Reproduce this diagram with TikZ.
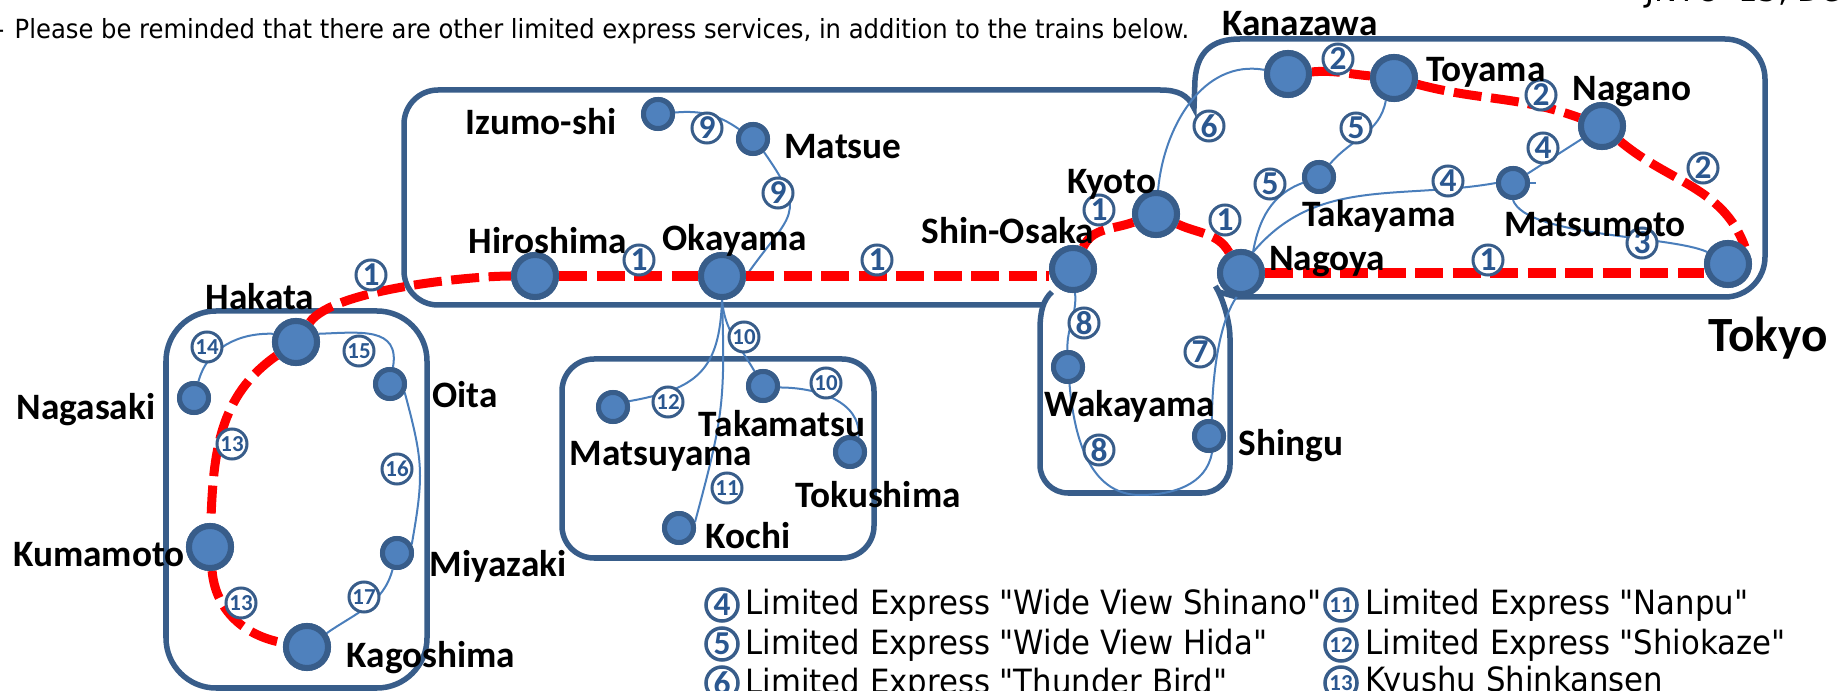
\documentclass[tikz,border=0pt]{standalone}
\usepackage{fontspec}
\setmainfont{Carlito}
\newfontfamily\legendfont[FakeStretch=0.92]{DejaVu Sans}
\usetikzlibrary{calc}

\definecolor{boxblue}{HTML}{385D8A}
\definecolor{dotblue}{HTML}{4F81BD}
\definecolor{wireblue}{HTML}{4A7EBB}
\definecolor{numblue}{HTML}{2A5790}

\tikzset{
    stationbig/.style={circle,draw=boxblue,fill=dotblue,line width=0.06cm,minimum size=0.42cm,inner sep=0pt},
    stationsmall/.style={circle,draw=boxblue,fill=dotblue,line width=0.05cm,minimum size=0.29cm,inner sep=0pt},
    stationname/.style={font=\fontsize{10.6}{12}\selectfont\bfseries,inner sep=0pt},
    trainno/.style={circle,draw=boxblue,fill=white,line width=0.03cm,minimum size=0.3cm,inner sep=0pt,text=numblue,font=\fontsize{9.5}{10}\selectfont\bfseries},
    trainnosm/.style={trainno,font=\fontsize{6.5}{7}\selectfont\bfseries},
    railbox/.style={draw=boxblue,line width=0.055cm},
    shinkansen/.style={draw=red,line width=0.09cm,dash pattern=on 0.28cm off 0.095cm},
    express/.style={draw=wireblue,line width=0.02cm},
    legendtext/.style={font=\legendfont\fontsize{9.5}{10}\selectfont,anchor=base west,inner sep=0pt},
    notetext/.style={legendtext,font=\legendfont\fontsize{7.5}{10}\selectfont},
    legendno/.style={line width=0.035cm,minimum size=0.32cm},
}

\begin{document}
\begin{tikzpicture}[x=0.01cm,y=-0.01cm]

    \clip (0,0) rectangle (1841,691);

    % outlines of the areas
    \draw[railbox,rounded corners=0.5cm] (166,311) rectangle (427,688);
    \draw[railbox,rounded corners=0.32cm] (562,359) rectangle (874,558);
    \draw[railbox] (1052,292) .. controls (1043,300) and (1040,312) .. (1040,330)
        [rounded corners=0.28cm] -- (1040,493) -- (1230,493) -- (1230,310)
        [sharp corners] -- (1219,292) -- (1237,297)
        [rounded corners=0.4cm] -- (1765,297) -- (1765,39) -- (1240,39);
    \draw[railbox,line join=miter] (1240,39) .. controls (1212,39) and (1197,52) .. (1195,80) -- (1194,108)
        .. controls (1188,95) and (1178,90) .. (1160,90);
    \draw[railbox,rounded corners=0.34cm] (1160,90) -- (404,90) -- (404,305) -- (1042,305);

    % stations
    \foreach \nm/\x/\y in {hiroshima/535/276,okayama/722/276,hakata/296/342,kanazawa/1288/74,toyama/1394/78,nagano/1602/126,kyoto/1156/214,shinosaka/1073/269,nagoya/1241/273,tokyo/1728/264,kumamoto/210/547,kagoshima/307/647}
        \node[stationbig] (\nm) at (\x,\y) {};
    \foreach \nm/\x/\y in {izumo/658/114,matsue/753/139,takayama/1319/177,matsumoto/1513/183,nagasaki/194/398,oita/390/384,miyazaki/397/553,matsuyama/613/407,takamatsu/763/386,tokushima/850/452,kochi/679/528,wakayama/1068/367,shingu/1209/436}
        \node[stationsmall] (\nm) at (\x,\y) {};
    \coordinate (kiibottom) at (1140,495);

    % thin lines
    \draw[express] (izumo) to[out=5,in=145] (matsue);
    \draw[express] (matsue.-50) to[out=-55,in=55,looseness=1.6] (okayama.0);
    \draw[express] (kanazawa) to[out=170,in=85] (kyoto);
    \draw[express] (toyama.-110) to[out=-100,in=50] (takayama);
    \draw[express] (takayama) to[out=200,in=80] (nagoya.60);
    \draw[express] (nagano) -- (matsumoto);
    \draw[express] (matsumoto.east) -- ++(6,0);
    \draw[express] (matsumoto.180) to[out=190,in=50] (nagoya.60);
    \draw[express] (matsumoto.-90) to[out=-70,in=155,looseness=0.5] (tokyo.150);
    \draw[express] (nagoya.-100) to[out=-125,in=90,looseness=0.7] (shingu.80);
    \draw[express] (shingu.-80) to[out=-100,in=0] (kiibottom) to[out=180,in=-85] (wakayama);
    \draw[express] (wakayama) to[out=92,in=-85] (shinosaka);
    \draw[express] (hakata.160) to[out=178,in=75] (nagasaki);
    \draw[express] (hakata.20) to[out=2,in=80,looseness=1.3] (oita);
    \draw[express] (oita.-30) to[out=-75,in=80,looseness=1.2] (miyazaki.30);
    \draw[express] (miyazaki) to[out=-105,in=35] (kagoshima);
    \draw[express] (okayama.-90) to[out=-92,in=10,looseness=1.3] (matsuyama.20);
    \draw[express] (okayama.-90) to[out=-88,in=75,looseness=1.2] (kochi.20);
    \draw[express] (okayama.-90) to[out=-85,in=120] (takamatsu);
    \draw[express] (takamatsu.-5) to[out=0,in=85] (tokushima.60);

    % shinkansen
    \draw[shinkansen] (hakata) to[out=55,in=180,looseness=0.5] (hiroshima.west);
    \draw[shinkansen] (hiroshima) -- (okayama);
    \draw[shinkansen] (okayama.east) -- (okayama.east -| shinosaka.west);
    \draw[shinkansen] (shinosaka) to[out=65,in=200] (kyoto);
    \draw[shinkansen] (kyoto) to[out=-25,in=120] (nagoya);
    \draw[shinkansen] (nagoya.east) -- (nagoya.east -| tokyo.west);
    \draw[shinkansen] (kanazawa) to[out=5,in=175] (toyama);
    \draw[shinkansen] (toyama) to[out=-15,in=160] (nagano);
    \draw[shinkansen] (nagano) to[out=-40,in=110] (tokyo.45);
    \draw[shinkansen] (hakata.215) to[out=215,in=88] (kumamoto);
    \draw[shinkansen] (kumamoto) to[out=-85,in=170] (kagoshima);

    % stations again, over the lines
    \foreach \nm/\x/\y in {hiroshima/535/276,okayama/722/276,hakata/296/342,kanazawa/1288/74,toyama/1394/78,nagano/1602/126,kyoto/1156/214,shinosaka/1073/269,nagoya/1241/273,tokyo/1728/264,kumamoto/210/547,kagoshima/307/647}
        \node[stationbig] (top\nm) at (\x,\y) {};
    \foreach \nm/\x/\y in {izumo/658/114,matsue/753/139,takayama/1319/177,matsumoto/1513/183,nagasaki/194/398,oita/390/384,miyazaki/397/553,matsuyama/613/407,takamatsu/763/386,tokushima/850/452,kochi/679/528,wakayama/1068/367,shingu/1209/436}
        \node[stationsmall] (top\nm) at (\x,\y) {};

    % train numbers
    \foreach \x/\y/\n [count=\i] in {371/275/1,639/260/1,877/260/1,707/128/9,778/193/9,1338/59/2,1541/95/2,1703/168/2,1209/126/6,1356/128/5,1270/184/5,1543/148/4,1448/181/4,1642/243/3,1488/260/1,1225/220/1,1099/210/1,1084/323/8,1200/352/7,1099/450/8}
        \node[trainno] (no\i) at (\x,\y) {\n};
    \foreach \x/\y/\n [count=\i] in {744/337/10,207/347/14,359/351/15,232/444/13,397/469/16,241/603/13,364/597/17,668/402/12,826/383/10,727/488/11}
        \node[trainnosm] (nosm\i) at (\x,\y) {\n};

    % names
    \foreach \nm/\x/\y/\t in {izumo/541/122/Izumo-shi,matsue/843/147/Matsue,hiroshima/548/241/Hiroshima,okayama/735/240/Okayama,hakata/260/297/Hakata,kanazawa/1300/24/Kanazawa,toyama/1486/72/Toyama,nagano/1632/92/Nagano,kyoto/1112/184/Kyoto,shinosaka/1008/231/Shin-Osaka,takayama/1379/216/Takayama,matsumoto/1595/225/Matsumoto,nagoya/1327/262/Nagoya,nagasaki/86/410/Nagasaki,oita/465/395/Oita,kumamoto/99/555/Kumamoto,miyazaki/498/566/Miyazaki,kagoshima/431/658/Kagoshima,matsuyama/661/456/Matsuyama,takamatsu/782/424/Takamatsu,tokushima/878/495/Tokushima,kochi/748/536/Kochi,wakayama/1130/406/Wakayama,shingu/1291/446/Shingu}
        \node[stationname] (name\nm) at (\x,\y) {\t};
    \node[stationname,font=\fontsize{14}{16}\selectfont\bfseries] (nametokyo) at (1768,338) {Tokyo};

    % notes and legend
    \node[notetext] (notemark) at (-5,39) {-};
    \node[notetext] (note) at (14,39) {Please be reminded that there are other limited express services, in addition to the trains below.};
    \node[legendtext] (source) at (1645,2) {JNTO '15, Dec};
    \foreach \y/\n/\t [count=\i] in {605/4/Limited Express "Wide View Shinano",644/5/Limited Express "Wide View Hida",683/6/Limited Express "Thunder Bird"}{
        \node[trainno,legendno] (leftno\i) at (722,\y) {\n};
        \node[legendtext] (lefttext\i) at (745,\y+10) {\t};
    }
    \foreach \y/\n/\t [count=\i] in {605/11/Limited Express "Nanpu",645/12/Limited Express "Shiokaze",683/13/Kyushu Shinkansen}{
        \node[trainnosm,legendno] (rightno\i) at (1341,\y) {\n};
        \node[legendtext] (righttext\i) at (1365,\y+9) {\t};
    }

\end{tikzpicture}
\end{document}
